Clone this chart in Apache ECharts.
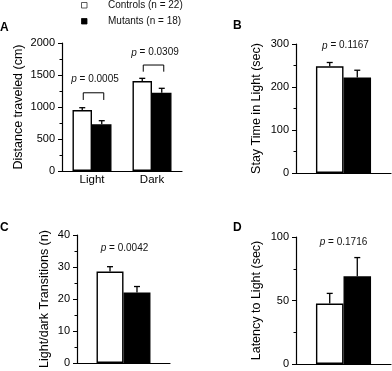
<!DOCTYPE html>
<html>
<head>
<meta charset="utf-8">
<script src="https://cdn.jsdelivr.net/npm/echarts@6/dist/echarts.min.js"></script>
<style>
html,body{margin:0;padding:0;background:#fff;}
#c{width:392px;height:371px;}
</style>
</head>
<body>
<div id="c"></div>
<script>
// ---------- data ----------
const seriesNames = ['Controls (n = 22)', 'Mutants (n = 18)'];

// Panel A: distance traveled (cm)
const catsA = ['Light', 'Dark'];
const controlsA = [953, 1406];
const controlsAErr = [36, 42];
const mutantsA = [729, 1224];
const mutantsAErr = [57, 68];
const bracketA = [[1110, 1222], [1552, 1656]];
const pTextA = ['0.0005', '0.0309'];
const pPosA = [1437, 1848];
const ticksA = [0, 500, 1000, 1500, 2000];

// Panel B: stay time in light (sec)
const controlsB = [248];
const controlsBErr = [9];
const mutantsB = [222];
const mutantsBErr = [17];
const pTextB = ['0.1167'];
const pPosB = [296];
const ticksB = [0, 100, 200, 300];

// Panel C: light/dark transitions (n)
const controlsC = [28.6];
const controlsCErr = [1.5];
const mutantsC = [22.0];
const mutantsCErr = [1.9];
const pTextC = ['0.0042'];
const pPosC = [36.0];
const ticksC = [0, 10, 20, 30, 40];

// Panel D: latency to light (sec)
const controlsD = [47.6];
const controlsDErr = [8];
const mutantsD = [69.1];
const mutantsDErr = [14.7];
const pTextD = ['0.1716'];
const pPosD = [95.6];
const ticksD = [0, 50, 100];

const yTitles = ['Distance traveled (cm)', 'Stay Time in Light (sec)', 'Light/dark Transitions (n)', 'Latency to Light (sec)'];
const panelLetters = ['A', 'B', 'C', 'D'];

// ---------- helpers ----------
const FONT = 'Liberation Sans, Arial, Helvetica, sans-serif';
const INK = '#000';

function yAxisCfg(idx, ticks, name, gap) {
  const mx = ticks[ticks.length - 1];
  return {
    gridIndex: idx, type: 'value', min: ticks[0], max: mx,
    interval: ticks[1] - ticks[0], z: 6,
    name: name, nameLocation: 'middle', nameGap: gap,
    nameTextStyle: { fontFamily: FONT, fontSize: 12.5, color: INK },
    axisLine: { show: true, lineStyle: { color: INK, width: 1.2 } },
    axisTick: { show: true, length: 4, lineStyle: { color: INK, width: 1 } },
    minorTick: { show: true, splitNumber: 2, length: 2.5, lineStyle: { color: INK, width: 1 } },
    splitLine: { show: false },
    axisLabel: { fontFamily: FONT, fontSize: 11, color: INK, margin: 7, formatter: v => String(v) }
  };
}
function xAxisCfg(idx, cats, showLabels) {
  return {
    gridIndex: idx, type: 'category', data: cats, z: 6,
    axisLine: { show: true, lineStyle: { color: INK, width: 1.2 } },
    axisTick: { show: false },
    axisLabel: { show: showLabels, fontFamily: FONT, fontSize: 11.5, color: INK, margin: 3 }
  };
}
function barSeries(idx, name, data, fill, gap) {
  return {
    type: 'bar', name: name, xAxisIndex: idx, yAxisIndex: idx, data: data,
    barGap: '0%', barCategoryGap: gap, z: 3,
    itemStyle: { color: fill, borderColor: INK, borderWidth: 1.4 }
  };
}
function errSeries(idx, vals, errs, side, gapRatio) {
  return {
    type: 'custom', xAxisIndex: idx, yAxisIndex: idx, silent: true, z: 2,
    data: vals.map((v, i) => [i, v, errs[i]]),
    renderItem: function (params, api) {
      const band = api.size([1, 0])[0];
      const bw = band * (1 - gapRatio) / 2;
      const base = api.coord([api.value(0), api.value(1)]);
      const top = api.coord([api.value(0), api.value(1) + api.value(2)]);
      const x = base[0] + side * bw / 2;
      return {
        type: 'group', children: [
          { type: 'line', shape: { x1: x, y1: base[1], x2: x, y2: top[1] }, style: { stroke: INK, lineWidth: 1.3 } },
          { type: 'line', shape: { x1: x - 3, y1: top[1], x2: x + 3, y2: top[1] }, style: { stroke: INK, lineWidth: 1.3 } }
        ]
      };
    }
  };
}
function bracketSeries(idx, brackets, gapRatio) {
  return {
    type: 'custom', xAxisIndex: idx, yAxisIndex: idx, silent: true, z: 4,
    data: brackets.map((b, i) => [i, b[0], b[1]]),
    renderItem: function (params, api) {
      const band = api.size([1, 0])[0];
      const bw = band * (1 - gapRatio) / 2;
      const lo = api.coord([api.value(0), api.value(1)]);
      const hi = api.coord([api.value(0), api.value(2)]);
      const xl = lo[0] - bw / 2 + 1, xr = lo[0] + bw / 2 + 2;
      return {
        type: 'polyline',
        shape: { points: [[xl, lo[1]], [xl, hi[1]], [xr, hi[1]], [xr, lo[1]]] },
        style: { stroke: INK, lineWidth: 1, fill: null }
      };
    }
  };
}
function pSeries(idx, texts, pos, dx) {
  return {
    type: 'custom', xAxisIndex: idx, yAxisIndex: idx, silent: true, z: 5,
    data: pos.map((p, i) => [i, p]),
    renderItem: function (params, api) {
      const c = api.coord([api.value(0), api.value(1)]);
      return {
        type: 'text',
        style: {
          x: c[0] + dx, y: c[1],
          text: '{i|p} = ' + texts[params.dataIndex],
          align: 'center', verticalAlign: 'middle',
          fontFamily: FONT, fontSize: 10, fill: '#111',
          rich: { i: { fontStyle: 'italic', fontFamily: FONT, fontSize: 10, fill: '#111' } }
        }
      };
    }
  };
}

const gapA = 0.35, gapB = 0.42, gapC = 0.42, gapD = 0.42;

const option = {
  animation: false,
  backgroundColor: '#fff',
  textStyle: { fontFamily: FONT },
  grid: [
    { left: 62, top: 43, width: 120, height: 128 },
    { left: 296, top: 44, width: 95, height: 129 },
    { left: 77, top: 235, width: 93, height: 128 },
    { left: 296, top: 237, width: 95, height: 127 }
  ],
  xAxis: [
    xAxisCfg(0, catsA, true),
    xAxisCfg(1, [''], false),
    xAxisCfg(2, [''], false),
    xAxisCfg(3, [''], false)
  ],
  yAxis: [
    yAxisCfg(0, ticksA, yTitles[0], 37),
    yAxisCfg(1, ticksB, yTitles[1], 33),
    yAxisCfg(2, ticksC, yTitles[2], 26),
    yAxisCfg(3, ticksD, yTitles[3], 33)
  ],
  series: [
    barSeries(0, seriesNames[0], controlsA, '#fff', (gapA * 100) + '%'),
    barSeries(0, seriesNames[1], mutantsA, '#000', (gapA * 100) + '%'),
    errSeries(0, controlsA, controlsAErr, -1, gapA),
    errSeries(0, mutantsA, mutantsAErr, 1, gapA),
    bracketSeries(0, bracketA, gapA),
    pSeries(0, pTextA, pPosA, 3),

    barSeries(1, seriesNames[0], controlsB, '#fff', (gapB * 100) + '%'),
    barSeries(1, seriesNames[1], mutantsB, '#000', (gapB * 100) + '%'),
    errSeries(1, controlsB, controlsBErr, -1, gapB),
    errSeries(1, mutantsB, mutantsBErr, 1, gapB),
    pSeries(1, pTextB, pPosB, 2),

    barSeries(2, seriesNames[0], controlsC, '#fff', (gapC * 100) + '%'),
    barSeries(2, seriesNames[1], mutantsC, '#000', (gapC * 100) + '%'),
    errSeries(2, controlsC, controlsCErr, -1, gapC),
    errSeries(2, mutantsC, mutantsCErr, 1, gapC),
    pSeries(2, pTextC, pPosC, 1),

    barSeries(3, seriesNames[0], controlsD, '#fff', (gapD * 100) + '%'),
    barSeries(3, seriesNames[1], mutantsD, '#000', (gapD * 100) + '%'),
    errSeries(3, controlsD, controlsDErr, -1, gapD),
    errSeries(3, mutantsD, mutantsDErr, 1, gapD),
    pSeries(3, pTextD, pPosD, 0)
  ],
  graphic: [
    { type: 'rect', shape: { x: 81.5, y: 2.5, width: 5.5, height: 5.5 }, style: { fill: '#fff', stroke: '#333', lineWidth: 0.8 } },
    { type: 'text', x: 108, y: 5.7, style: { text: seriesNames[0], fontFamily: FONT, fontSize: 10, fill: '#111', verticalAlign: 'middle' } },
    { type: 'rect', shape: { x: 81.5, y: 18.5, width: 5.5, height: 5.5 }, style: { fill: '#000', stroke: '#000', lineWidth: 0.8 } },
    { type: 'text', x: 108, y: 21.7, style: { text: seriesNames[1], fontFamily: FONT, fontSize: 10, fill: '#111', verticalAlign: 'middle' } },
    { type: 'text', x: 0, y: 27.5, style: { text: panelLetters[0], fontFamily: FONT, fontSize: 12, fontWeight: 'bold', fill: INK, verticalAlign: 'middle' } },
    { type: 'text', x: 233, y: 26, style: { text: panelLetters[1], fontFamily: FONT, fontSize: 12, fontWeight: 'bold', fill: INK, verticalAlign: 'middle' } },
    { type: 'text', x: 0, y: 228, style: { text: panelLetters[2], fontFamily: FONT, fontSize: 12, fontWeight: 'bold', fill: INK, verticalAlign: 'middle' } },
    { type: 'text', x: 233, y: 228, style: { text: panelLetters[3], fontFamily: FONT, fontSize: 12, fontWeight: 'bold', fill: INK, verticalAlign: 'middle' } }
  ]
};

const chart = echarts.init(document.getElementById('c'), null, { renderer: 'canvas' });
chart.setOption(option);
</script>
</body>
</html>
